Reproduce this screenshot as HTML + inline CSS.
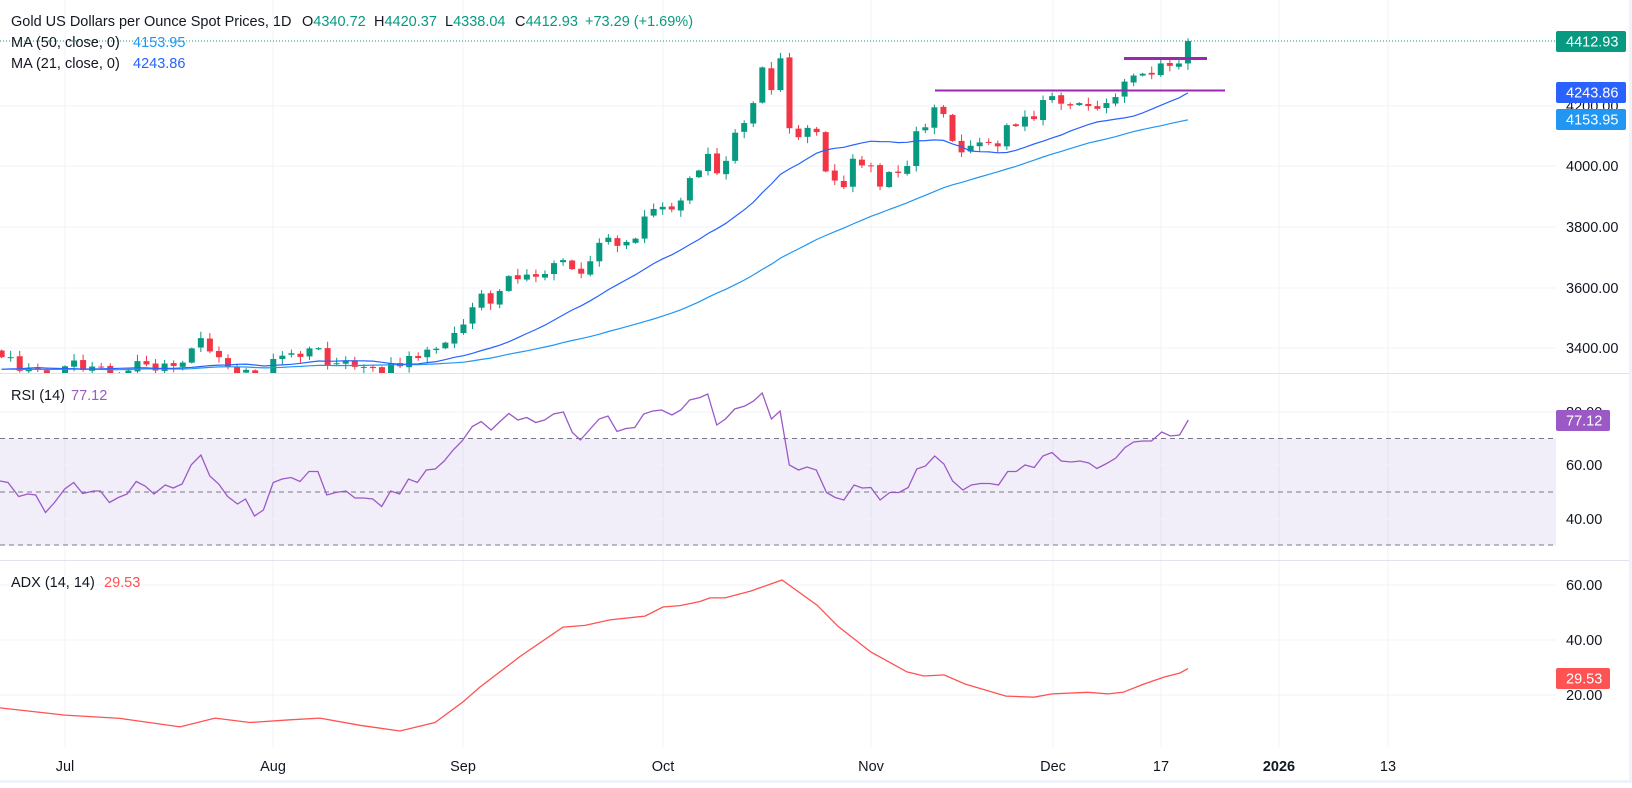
<!DOCTYPE html>
<html><head><meta charset="utf-8">
<style>
html,body{margin:0;padding:0;background:#fff;}
body{width:1632px;height:783px;overflow:hidden;font-family:"Liberation Sans",sans-serif;}
svg text{font-family:"Liberation Sans",sans-serif;font-size:14.5px;fill:#131722;}
</style></head><body>
<svg id="s" width="1632" height="783" xmlns="http://www.w3.org/2000/svg">
<defs>
<clipPath id="cm"><rect x="0" y="0" width="1556" height="373"/></clipPath>
</defs>
<rect x="0" y="0" width="1632" height="783" fill="#fff"/>
<g id="grid" stroke="#f0f3fa" stroke-width="1">
<line x1="0" y1="106" x2="1556" y2="106"/><line x1="0" y1="166" x2="1556" y2="166"/><line x1="0" y1="227" x2="1556" y2="227"/><line x1="0" y1="288" x2="1556" y2="288"/><line x1="0" y1="348" x2="1556" y2="348"/>
<line x1="0" y1="585" x2="1556" y2="585"/><line x1="0" y1="640" x2="1556" y2="640"/><line x1="0" y1="695" x2="1556" y2="695"/>
<line x1="65" y1="0" x2="65" y2="747"/><line x1="273" y1="0" x2="273" y2="747"/><line x1="463" y1="0" x2="463" y2="747"/><line x1="663" y1="0" x2="663" y2="747"/><line x1="871" y1="0" x2="871" y2="747"/><line x1="1053" y1="0" x2="1053" y2="747"/><line x1="1161" y1="0" x2="1161" y2="747"/><line x1="1279" y1="0" x2="1279" y2="747"/><line x1="1388" y1="0" x2="1388" y2="747"/>
</g>
<rect x="0" y="438.5" width="1556" height="107" fill="#7e57c2" fill-opacity="0.1"/>
<g stroke="#f0f3fa"><line x1="0" y1="412" x2="1556" y2="412"/><line x1="0" y1="465" x2="1556" y2="465"/><line x1="0" y1="519" x2="1556" y2="519"/></g>
<g stroke="#787b86" stroke-dasharray="5,4" stroke-width="1">
<line x1="0" y1="438.5" x2="1556" y2="438.5"/><line x1="0" y1="492" x2="1556" y2="492"/><line x1="0" y1="545" x2="1556" y2="545"/>
</g>
<line x1="0" y1="373.5" x2="1632" y2="373.5" stroke="#e0e3eb"/>
<line x1="0" y1="560.5" x2="1632" y2="560.5" stroke="#e0e3eb"/>
<line x1="0" y1="41" x2="1556" y2="41" stroke="#089981" stroke-dasharray="1,2"/>
<g id="main" clip-path="url(#cm)"></g>
<line x1="935" y1="90.5" x2="1225" y2="90.5" stroke="#9c27b0" stroke-width="2"/>
<line x1="1124" y1="58.5" x2="1207" y2="58.5" stroke="#9c27b0" stroke-width="3"/>
<polyline id="rsi" fill="none" stroke="#9b59c6" stroke-width="1.3"/>
<polyline id="adx" fill="none" stroke="#ff5252" stroke-width="1.3"/>

<text x="11" y="26">Gold US Dollars per Ounce Spot Prices, 1D</text>
<text x="302" y="26">O<tspan fill="#089981">4340.72</tspan></text>
<text x="374" y="26">H<tspan fill="#089981">4420.37</tspan></text>
<text x="445" y="26">L<tspan fill="#089981">4338.04</tspan></text>
<text x="515" y="26">C<tspan fill="#089981">4412.93</tspan></text>
<text x="585" y="26" style="fill:#089981">+73.29 (+1.69%)</text>
<text x="11" y="47">MA (50, close, 0)</text><text x="133" y="47" style="fill:#2196f3">4153.95</text>
<text x="11" y="68">MA (21, close, 0)</text><text x="133" y="68" style="fill:#2962ff">4243.86</text>
<text x="11" y="400">RSI (14)</text><text x="71" y="400" style="fill:#9b59c6">77.12</text>
<text x="11" y="587">ADX (14, 14)</text><text x="104" y="587" style="fill:#ff5252">29.53</text>

<g>
<text x="1566" y="111">4200.00</text><text x="1566" y="171">4000.00</text><text x="1566" y="232">3800.00</text><text x="1566" y="293">3600.00</text><text x="1566" y="353">3400.00</text>
<text x="1566" y="417">80.00</text><text x="1566" y="470">60.00</text><text x="1566" y="524">40.00</text>
<text x="1566" y="590">60.00</text><text x="1566" y="645">40.00</text><text x="1566" y="700">20.00</text>
</g>
<rect x="1556" y="31" width="70" height="21" rx="2" fill="#089981"/><text x="1566" y="46.5" style="fill:#fff">4412.93</text>
<rect x="1556" y="82" width="70" height="21" rx="2" fill="#2962ff"/><text x="1566" y="97.5" style="fill:#fff">4243.86</text>
<rect x="1556" y="109" width="70" height="21" rx="2" fill="#2196f3"/><text x="1566" y="124.5" style="fill:#fff">4153.95</text>
<rect x="1556" y="410" width="54" height="21" rx="2" fill="#9b59c6"/><text x="1566" y="425.5" style="fill:#fff">77.12</text>
<rect x="1556" y="668" width="54" height="21" rx="2" fill="#ff5252"/><text x="1566" y="683.5" style="fill:#fff">29.53</text>

<g text-anchor="middle">
<text x="65" y="771">Jul</text><text x="273" y="771">Aug</text><text x="463" y="771">Sep</text><text x="663" y="771">Oct</text><text x="871" y="771">Nov</text><text x="1053" y="771">Dec</text><text x="1161" y="771">17</text><text x="1279" y="771" style="font-weight:bold">2026</text><text x="1388" y="771">13</text>
</g>
<rect x="0" y="780" width="1632" height="3" fill="#f0f3fa"/>
<rect x="1629" y="0" width="3" height="783" fill="#f0f3fa"/>
</svg>
<script>
(function(){
var C=[3368,3368,3323,3333,3328,3274,3303,
3338,3357,3326,3337,3336,3301,3313,3324,3355,3344,3324,3347,3339,3350,3397,3431,3387,3368,3337,3314,3326,3274,3289,
3362,3373,3381,3369,3397,3398,3342,3348,3356,3336,3336,3332,3315,3347,3338,3372,3365,3393,3396,3416,3448,
3476,3533,3578,3545,3587,3636,3626,3641,3634,3643,3679,3689,3659,3644,3685,3746,3763,3736,3749,3760,3833,3858,
3865,3856,3886,3960,3985,4040,3976,4017,4110,4142,4208,4326,4251,4356,4125,4095,4126,4112,3982,3952,3930,4024,4002,
4000,3932,3980,3977,4000,4115,4128,4194,4172,4083,4045,4067,4078,4078,4065,4135,4132,4163,4155,4218,
4231,4206,4200,4208,4198,4189,4208,4228,4279,4299,4305,4302,4339,4331,4339,4413];
var pad=[];for(var k=0;k<60;k++)pad.push(3320+35*Math.sin(k*0.7)+(k%3)*6);
var all=pad.concat(C);
function Y(p){return 166-(p-4000)*0.3025;}
function X(i){return 65+(i-7)*9.056;}
var g=document.getElementById('main'),h='';
for(var i=0;i<C.length;i++){
 var c=C[i],o=i==0?3390:C[i-1]+((i*7)%5-2)*1.5;
 var hi=Math.max(o,c)+3+((i*13)%7)*3,lo=Math.min(o,c)-3-((i*11)%7)*3;
 var col=c>=o?'#089981':'#f23645',x=X(i);
 var yt=Y(Math.max(o,c)),yb=Y(Math.min(o,c));if(yb-yt<1)yb=yt+1;
 h+='<line x1="'+x+'" x2="'+x+'" y1="'+Y(hi)+'" y2="'+Y(lo)+'" stroke="'+col+'"/>';
 h+='<rect x="'+(x-3)+'" y="'+yt+'" width="6" height="'+(yb-yt)+'" fill="'+col+'"/>';
}
function ma(n){var p=[];for(var i=0;i<C.length;i++){var j=i+60,s=0;for(var m=0;m<n;m++)s+=all[j-m];p.push(X(i).toFixed(1)+','+Y(s/n).toFixed(1));}return p.join(' ');}
h+='<polyline fill="none" stroke="#2196f3" stroke-width="1.2" points="'+ma(50)+'"/>';
h+='<polyline fill="none" stroke="#2962ff" stroke-width="1.2" points="'+ma(21)+'"/>';
g.innerHTML=h;
var r1=[0,962,18,965,42,993,62,988,80,990,102,1025,122,1005,145,978,165,965,185,987,210,982,225,982,245,1005,265,995,285,988,305,963,325,972,345,988,370,970,388,976,408,968,428,930,450,910,470,952,490,968,510,993,532,1008,550,998,570,1032,590,1020,612,965,632,958,652,955,672,963,692,943,712,943,732,990,752,985,775,982,795,996,815,996,835,998,855,1013,875,982,895,988,915,958,935,965,955,940,975,938,995,922,1015,900,1035,882,1058,853,1078,843,1100,860,1120,843,1140,827,1160,840,1180,835,1200,845,1220,840,1240,828,1262,824,1282,865,1300,880,1320,860,1342,838,1362,832,1382,863,1402,857,1422,855,1442,828,1462,822,1482,820,1505,830,1525,820,1545,800];
var r2=[0,795,15,788,33,850,50,838,68,818,88,812,105,802,122,786,140,838,157,822,175,930,193,940,210,934,228,940,248,985,265,995,282,1000,302,970,318,976,335,975,353,1000,372,985,390,985,408,975,425,938,442,932,460,912,478,928,495,962,515,980,532,970,550,967,568,967,585,970,603,943,620,943,637,930,655,935,672,912,690,905,708,922,728,924,745,922,762,926,778,937,797,927,815,916,833,895,850,884,868,882,885,882,905,864,922,872,940,870,957,840];
var pts=[];for(var i=0;i<r1.length;i+=2)pts.push((r1[i]/2.24).toFixed(1)+','+(r1[i+1]/2).toFixed(1));
for(var i=0;i<r2.length;i+=2)pts.push((700+r2[i]/1.96).toFixed(1)+','+(r2[i+1]/2).toFixed(1));
document.getElementById('rsi').setAttribute('points',pts.join(' '));
var ad=[0,15.3,65,12.7,120,11.5,180,8.4,215,11.6,250,10,290,11,320,11.6,360,9,400,6.9,435,10,463,17.5,480,22.9,520,34,563,44.7,585,45.3,610,47.3,645,48.7,663,52,680,52.5,700,54,710,55.3,725,55.3,751,57.8,782,61.8,817,52.7,838,45,871,35.6,907,28.4,924,26.9,944,27.3,965,24,1006,19.6,1034,19.2,1052,20.4,1088,21,1108,20.4,1123,21,1144,24,1164,26.5,1180,28,1188,29.6];
var ap=[];for(var i=0;i<ad.length;i+=2)ap.push(ad[i]+','+(695-(ad[i+1]-20)*2.75).toFixed(1));
document.getElementById('adx').setAttribute('points',ap.join(' '));
})();
</script>
</body></html>
